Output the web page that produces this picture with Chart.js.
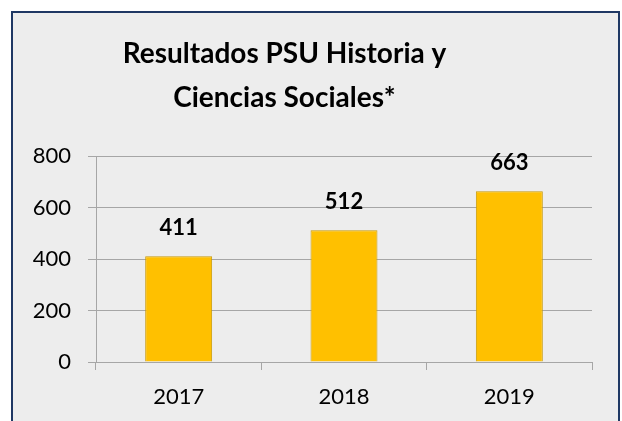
<!DOCTYPE html>
<html>
<head>
<meta charset="utf-8">
<script src="https://cdn.jsdelivr.net/npm/chart.js@4"></script>
<style>
  body { margin: 0; background: #ffffff; }
  #marco {
    position: absolute; left: 11px; top: 11px;
    width: 605px; height: 420px;
    border: 2px solid #1F3864; background: #EDEDED;
  }
  #canvas-psu { display: block; }
</style>
</head>
<body>
<div id="marco"><canvas id="canvas-psu" width="605" height="408"></canvas></div>
<script>
// datos del grafico
const anios = ['2017', '2018', '2019'];
const puntajes = [411, 512, 663];
const tituloLineas = ['Resultados PSU Historia y', 'Ciencias Sociales*'];

const fuente = 'Lato, "Liberation Sans", sans-serif';

// etiqueta sobre cada barra
const etiquetasBarras = {
    id: 'etiquetasBarras',
    afterDatasetsDraw(chart) {
        const ctx = chart.ctx;
        const meta = chart.getDatasetMeta(0);
        ctx.save();
        ctx.font = 'bold 22px ' + fuente;
        ctx.fillStyle = '#000000';
        ctx.textAlign = 'center';
        ctx.textBaseline = 'middle';
        meta.data.forEach((barra, i) => {
            ctx.fillText(chart.data.datasets[0].data[i], barra.x, barra.y - 28);
        });
        ctx.restore();
    }
};

// el titulo del original esta algo corrido a la izquierda
const correrTitulo = {
    id: 'correrTitulo',
    afterLayout(chart) {
        if (chart.titleBlock) {
            chart.titleBlock.left -= 18;
            chart.titleBlock.right -= 18;
        }
    }
};

const ctx = document.getElementById('canvas-psu');

new Chart(ctx, {
    type: 'bar',
    data: {
        labels: anios,
        datasets: [{
            data: puntajes,
            backgroundColor: '#FFC000',
            borderColor: '#C99A06',
            borderWidth: 1,
            barPercentage: 0.405,
            categoryPercentage: 1
        }]
    },
    options: {
        responsive: false,
        animation: false,
        layout: { padding: { left: 0, right: 26, top: 0, bottom: 0 } },
        plugins: {
            legend: { display: false },
            tooltip: { enabled: false },
            title: {
                display: true,
                text: tituloLineas,
                color: '#000000',
                font: { family: fuente, size: 28, weight: 'bold', lineHeight: '44px' },
                padding: { top: 19, bottom: 36 }
            }
        },
        scales: {
            x: {
                grid: { offset: true, drawOnChartArea: false, drawTicks: true, tickLength: 8, color: '#A6A6A6' },
                border: { display: false },
                ticks: { color: '#000000', padding: 14, font: { family: fuente, size: 22 } },
                afterFit(scale) { scale.height = 59; }
            },
            y: {
                min: 0,
                max: 800,
                ticks: { stepSize: 200, color: '#000000', padding: 17, font: { family: fuente, size: 22 } },
                grid: { color: '#A6A6A6', tickLength: 8 },
                border: { display: true, color: '#A6A6A6' },
                afterFit(scale) { scale.width = 83; }
            }
        }
    },
    plugins: [etiquetasBarras, correrTitulo]
});
</script>
</body>
</html>
